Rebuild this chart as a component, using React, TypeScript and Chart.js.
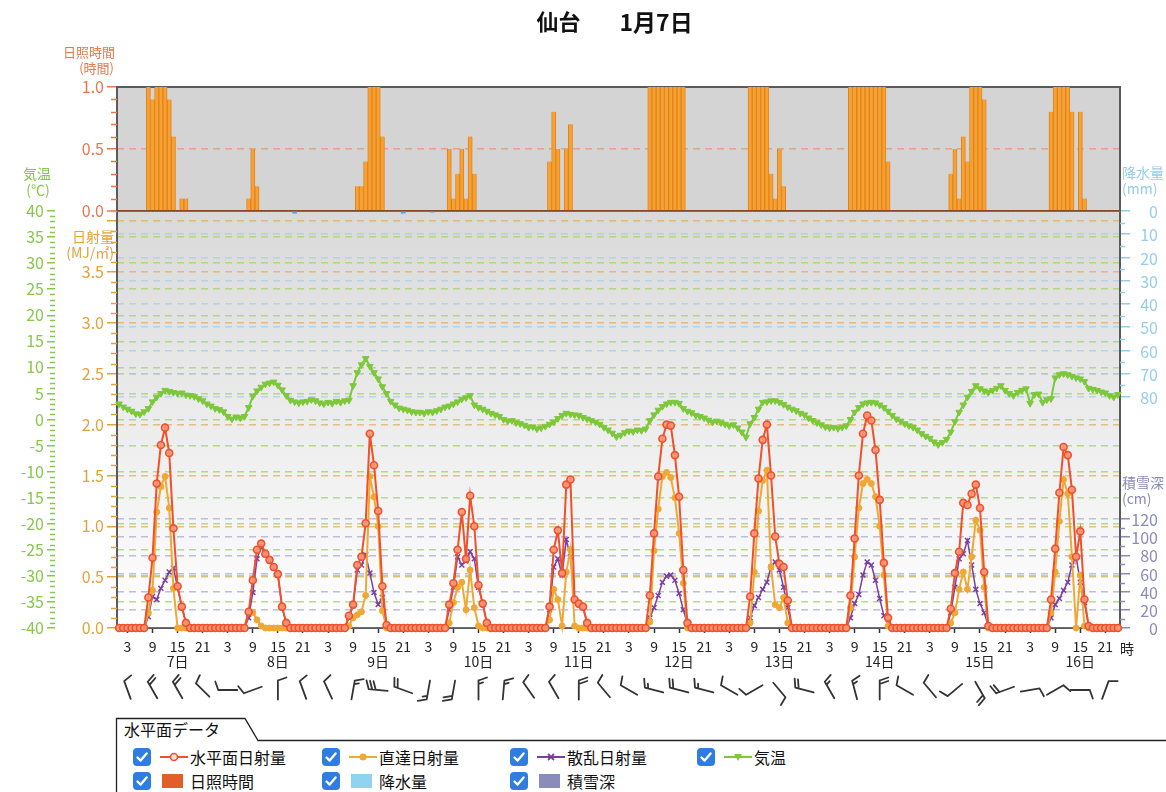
import { useEffect, useRef } from 'react';
import { Chart, registerables } from 'chart.js';

Chart.register(...registerables);

const FONT = '"Noto Sans CJK JP", "Noto Sans", "DejaVu Sans", sans-serif';
Chart.defaults.font.family = FONT;

const DAYS = [7, 8, 9, 10, 11, 12, 13, 14, 15, 16];
const HOURS = [1, 2, 3, 4, 5, 6, 7, 8, 9, 10, 11, 12, 13, 14, 15, 16, 17, 18, 19, 20, 21, 22, 23, 24];
const HOUR_TICKS = [3, 9, 15, 21];
const DAY_LABEL_HOUR = 15;

// 日照時間 (時間) hourly, one line per day
const sunshine = [
  0,0,0,0,0,0,0,1.0,0.9,1.0,1.0,1.0,0.9,0.6,0,0.1,0.1,0,0,0,0,0,0,0,
  0,0,0,0,0,0,0,0.1,0.5,0.2,0,0,0,0,0,0,0,0,0,0,0,0,0,0,
  0,0,0,0,0,0,0,0,0,0.2,0.2,0.4,1.0,1.0,1.0,0.6,0,0,0,0,0,0,0,0,
  0,0,0,0,0,0,0,0.5,0.1,0.3,0.5,0.1,0.6,0.3,0,0,0,0,0,0,0,0,0,0,
  0,0,0,0,0,0,0,0.4,0.8,0.5,0,0.5,0.7,0,0,0,0,0,0,0,0,0,0,0,
  0,0,0,0,0,0,0,1,1,1,1,1,1,1,1,1,0,0,0,0,0,0,0,0,
  0,0,0,0,0,0,0,1,1,1,1,1,0.3,0.1,0.5,0.2,0,0,0,0,0,0,0,0,
  0,0,0,0,0,0,0,1,1,1,1,1,1,1,1,1,0.4,0,0,0,0,0,0,0,
  0,0,0,0,0,0,0,0.3,0.5,0.1,0.6,0.4,1,1,1,0.9,0,0,0,0,0,0,0,0,
  0,0,0,0,0,0,0,0.8,1,1,1,1,0.8,0,0.8,0.1,0,0,0,0,0,0,0,0,
];

// 水平面日射量 (MJ/㎡)
const horizontal = [
  0,0,0,0,0,0,0,0.30,0.69,1.42,1.80,1.97,1.72,0.98,0.41,0.21,0.05,0,0,0,0,0,0,0,
  0,0,0,0,0,0,0,0.16,0.47,0.77,0.83,0.73,0.67,0.60,0.53,0.21,0.05,0,0,0,0,0,0,0,
  0,0,0,0,0,0,0,0.12,0.23,0.62,0.70,1.03,1.91,1.60,1.15,0.41,0.03,0,0,0,0,0,0,0,
  0,0,0,0,0,0,0,0.23,0.44,0.77,1.14,0.68,1.30,1.00,0.42,0.24,0.05,0,0,0,0,0,0,0,
  0,0,0,0,0,0,0,0.21,0.77,0.96,0.54,1.41,1.46,0.28,0.24,0.21,0.05,0,0,0,0,0,0,0,
  0,0,0,0,0,0,0,0.32,0.93,1.49,1.86,2.00,1.99,1.70,1.29,0.57,0.05,0,0,0,0,0,0,0,
  0,0,0,0,0,0,0,0.31,0.93,1.47,1.85,2.00,1.50,0.90,0.63,0.60,0.27,0,0,0,0,0,0,0,
  0,0,0,0,0,0,0,0.32,0.88,1.50,1.91,2.09,2.04,1.75,1.26,0.64,0.10,0,0,0,0,0,0,0,
  0,0,0,0,0,0,0,0.19,0.54,0.75,1.23,1.21,1.32,1.41,1.18,0.55,0.02,0,0,0,0,0,0,0,
  0,0,0,0,0,0,0,0.28,0.78,1.33,1.78,1.70,1.36,0.70,0.95,0.28,0.02,0,0,0,0,0,0,0,
];

// 直達日射量 (MJ/㎡)
const direct = [
  0,0,0,0,0,0,0,0.15,0.37,1.14,1.39,1.49,1.18,0.39,0,0,0,0,0,0,0,0,0,0,
  0,0,0,0,0,0,0,0.16,0.15,0.08,0.02,0,0,0,0,0,0,0,0,0,0,0,0,0,
  0,0,0,0,0,0,0,0.02,0.10,0.13,0.16,0.32,1.49,1.29,1.00,0.17,0,0,0,0,0,0,0,0,
  0,0,0,0,0,0,0,0.05,0.25,0.40,0.45,0.18,0.57,0.20,0.02,0,0,0,0,0,0,0,0,0,
  0,0,0,0,0,0,0,0.08,0.38,0.28,0.02,0.55,0.77,0.02,0,0,0,0,0,0,0,0,0,0,
  0,0,0,0,0,0,0,0.06,0.76,1.17,1.49,1.53,1.48,1.28,0.93,0.44,0,0,0,0,0,0,0,0,
  0,0,0,0,0,0,0,0.05,0.55,1.15,1.45,1.55,0.60,0.23,0.20,0.30,0.05,0,0,0,0,0,0,0,
  0,0,0,0,0,0,0,0.20,0.70,1.18,1.42,1.46,1.42,1.29,1.00,0.52,0.02,0,0,0,0,0,0,0,
  0,0,0,0,0,0,0,0.05,0.15,0.38,0.55,0.38,0.70,1.06,0.96,0.40,0,0,0,0,0,0,0,0,
  0,0,0,0,0,0,0,0.15,0.55,1.05,1.46,1.32,0.70,0,0.52,0.02,0,0,0,0,0,0,0,0,
];

// 散乱日射量 (MJ/㎡)
const diffuse = [
  0,0,0,0,0,0,0,0.11,0.31,0.28,0.39,0.47,0.55,0.59,0.40,0.21,0.05,0,0,0,0,0,0,0,
  0,0,0,0,0,0,0,0.10,0.35,0.68,0.80,0.72,0.66,0.59,0.52,0.20,0.05,0,0,0,0,0,0,0,
  0,0,0,0,0,0,0,0.10,0.22,0.57,0.62,0.72,0.54,0.35,0.23,0.30,0.03,0,0,0,0,0,0,0,
  0,0,0,0,0,0,0,0.18,0.40,0.70,0.62,0.66,0.75,0.68,0.40,0.24,0.05,0,0,0,0,0,0,0,
  0,0,0,0,0,0,0,0.18,0.60,0.68,0.52,0.87,0.70,0.27,0.23,0.20,0.05,0,0,0,0,0,0,0,
  0,0,0,0,0,0,0,0.10,0.20,0.32,0.45,0.51,0.52,0.47,0.34,0.18,0.04,0,0,0,0,0,0,0,
  0,0,0,0,0,0,0,0.10,0.22,0.30,0.38,0.45,0.60,0.65,0.57,0.40,0.20,0,0,0,0,0,0,0,
  0,0,0,0,0,0,0,0.10,0.24,0.33,0.52,0.65,0.62,0.47,0.29,0.12,0.05,0,0,0,0,0,0,0,
  0,0,0,0,0,0,0,0.15,0.40,0.68,0.73,0.86,0.62,0.38,0.24,0.15,0.02,0,0,0,0,0,0,0,
  0,0,0,0,0,0,0,0.10,0.23,0.29,0.37,0.45,0.62,0.70,0.45,0.25,0.02,0,0,0,0,0,0,0,
];

// 気温 (℃)
const temperature = [
  3.0,2.4,2.0,1.6,1.1,1.0,1.5,2.1,3.4,4.3,5.0,5.6,5.4,5.2,5.0,5.1,4.7,4.6,4.4,4.0,3.6,3.0,2.6,2.1,
  1.9,1.5,0.6,0.1,0.5,0.3,0.6,2.3,4.5,5.5,6.2,6.8,7.0,7.2,6.6,5.7,4.6,3.7,3.4,3.2,3.4,3.5,3.8,3.6,
  3.2,3.0,3.3,3.1,3.5,3.3,3.6,3.7,6.5,9.0,10.5,11.7,10.2,9.0,7.8,6.3,5.0,3.5,2.8,2.2,2.0,1.8,1.5,1.4,
  1.4,1.2,1.5,1.4,1.7,2.0,2.4,2.6,3.0,3.4,3.9,4.2,4.6,2.8,2.3,2.0,1.6,1.2,0.9,0.6,0.0,-0.3,-0.2,-0.6,
  -0.8,-1.1,-1.5,-1.4,-1.8,-1.6,-1.3,-0.9,-0.5,0.2,0.8,1.2,1.0,0.9,0.8,0.4,0.1,-0.2,-0.5,-0.9,-1.5,-2.0,-2.6,-3.3,
  -3.0,-2.5,-2.2,-2.3,-2.0,-2.1,-1.8,-0.2,0.9,1.8,2.5,3.0,3.3,3.3,3.1,2.1,1.6,1.3,0.8,0.6,0.3,-0.1,-0.5,-0.3,
  -0.6,-0.9,-1.2,-1.0,-1.6,-2.4,-3.4,-0.8,0.4,2.0,3.3,3.4,3.6,3.6,3.3,2.9,2.4,2.0,1.7,1.2,0.9,0.3,-0.2,-0.6,
  -1.0,-1.4,-1.6,-1.5,-1.7,-1.5,-1.2,0.0,1.4,2.3,3.0,3.2,3.3,3.2,2.8,2.3,1.6,0.8,0.1,-0.3,-0.8,-1.2,-1.5,-2.0,
  -2.7,-3.2,-3.6,-4.3,-4.8,-4.4,-3.8,-2.4,-0.4,1.4,2.8,4.3,5.4,6.5,5.9,5.5,5.2,5.6,6.0,6.5,5.6,5.0,4.6,5.2,
  5.6,5.9,3.1,4.8,4.9,3.3,3.8,4.0,8.0,8.6,8.8,8.6,8.3,8.0,7.8,7.3,6.0,5.8,5.6,5.3,5.1,4.6,4.3,4.8,
];

// 降水量 (mm)
const precipitation = [
  0,0,0,0,0,0,0,0,0,0,0,0,0,0,0,0,0,0,0,0,0,0,0,0,
  0,0,0,0,0,0,0,0,0,0,0,0,0,0,0,0,0,0,1.0,0,0,0,0,0,
  0,0,0,0,0,0,0,0,0,0,0,0,0,0,0,0,0,0,0,0,1.0,0,0,0,
  0,0,0,0.5,0,0,0,0,0,0,0,0,0,0,0,0,0,0,0,0,0,0,0,0,
  0,0,0,0,0,0,0,0,0,0,0,0,0,0,0,0,0,0,0,0,0,0,0,0,
  0,0,0,0,0,0,0,0,0,0,0,0,0,0,0,0,0,0,0,0,0,0,0,0,
  0,0,0,0,0,0,0,0,0,0,0,0,0,0,0,0,0,0,0,0,0,0,0,0,
  0,0,0,0,0,0,0,0,0,0,0,0,0,0,0,0,0,0,0,0,0,0,0,0,
  0,0,0,0,0,0,0,0,0,0,0,0,0,0,0,0,0,0,0,0,0,0,0,0,
  0,0,0,0,0,0,0,0,0,0,0,0,0,0,0,0,0,0,0,0,0,0,0,0,
];

// 積雪深 (cm)
const snowDepth = [
  0,0,0,0,0,0,0,0,0,0,0,0,0,0,0,0,0,0,0,0,0,0,0,0,
  0,0,0,0,0,0,0,0,0,0,0,0,0,0,0,0,0,0,0,0,0,0,0,0,
  0,0,0,0,0,0,0,0,0,0,0,0,0,0,0,0,0,0,0,0,0,0,0,0,
  0,0,0,0,0,0,0,0,0,0,0,0,0,0,0,0,0,0,0,0,0,0,0,0,
  0,0,0,0,0,0,0,0,0,0,0,0,0,0,0,0,0,0,0,0,0,0,0,0,
  0,0,0,0,0,0,0,0,0,0,0,0,0,0,0,0,0,0,0,0,0,0,0,0,
  0,0,0,0,0,0,0,0,0,0,0,0,0,0,0,0,0,0,0,0,0,0,0,0,
  0,0,0,0,0,0,0,0,0,0,0,0,0,0,0,0,0,0,0,0,0,0,0,0,
  0,0,0,0,0,0,0,0,0,0,0,0,0,0,0,0,0,0,0,0,0,0,0,0,
  0,0,0,0,0,0,0,0,0,0,0,0,0,0,0,0,0,0,0,0,0,0,0,0,
];

// 風向 (deg, from) / 風力 (barb units) at 3, 9, 15, 21 h each day
const WIND_HOURS = [3, 9, 15, 21];
const windDir = [
  340, 330, 330, 315,
  270, 250, 0, 340,
  335, 10, 275, 290,
  190, 190, 0, 5,
  325, 330, 0, 320,
  300, 285, 285, 285,
  300, 240, 140, 285,
  330, 345, 0, 300,
  320, 230, 150, 250,
  80, 60, 90, 20,
];
const windSpeed = [
  2, 4, 4, 2,
  2, 2, 2, 2,
  2, 3, 6, 4,
  3, 4, 3, 3,
  2, 2, 4, 2,
  2, 3, 4, 3,
  2, 2, 2, 4,
  3, 3, 4, 2,
  2, 2, 4, 4,
  2, 2, 2, 2,
];

const SUN_TICKS = [0, 0.5, 1];
const SOLAR_TICKS = [0, 0.5, 1, 1.5, 2, 2.5, 3, 3.5, 4];
const TEMP_TICKS = [-40, -35, -30, -25, -20, -15, -10, -5, 0, 5, 10, 15, 20, 25, 30, 35, 40];
const PRECIP_TICKS = [0, 10, 20, 30, 40, 50, 60, 70, 80];
const SNOW_TICKS = [0, 20, 40, 60, 80, 100, 120];

const SUN_C = '#e8774a';
const SOLAR_C = '#e3a23a';
const TEMP_C = '#86c84a';
const PRECIP_C = '#95cdea';
const SNOW_C = '#8a8abb';
const NONE = 'rgba(0,0,0,0)';

const H_COLOR = '#f0502a';
const D_COLOR = '#f0a834';
const F_COLOR = '#7b3fa0';
const T_COLOR = '#7cc83a';

function drawMinor(ctx: CanvasRenderingContext2D, scale: any, from: number, to: number, step: number, major: number, len: number, side: 'left' | 'right', color: string) {
  ctx.beginPath();
  ctx.strokeStyle = color;
  ctx.lineWidth = 1.5;
  const n = Math.round((to - from) / step);
  for (let k = 0; k <= n; k++) {
    const v = from + k * step;
    const r = v / major;
    if (Math.abs(r - Math.round(r)) < 1e-6) continue;
    const y = Math.round(scale.getPixelForValue(v)) + 0.5;
    const x0 = side === 'left' ? scale.right - len : scale.left;
    ctx.moveTo(x0, y);
    ctx.lineTo(x0 + len, y);
  }
  ctx.stroke();
}

function drawRightLabels(ctx: CanvasRenderingContext2D, scale: any, values: number[], color: string, xRight: number) {
  ctx.fillStyle = color;
  ctx.font = `16px ${FONT}`;
  ctx.textAlign = 'right';
  ctx.textBaseline = 'middle';
  values.forEach((v) => {
    ctx.fillText(String(v), xRight, scale.getPixelForValue(v) + 1);
  });
}

function drawBarb(ctx: CanvasRenderingContext2D, cx: number, cy: number, dirDeg: number, speed: number) {
  const L = 19;
  const a = (dirDeg * Math.PI) / 180;
  const ux = Math.sin(a);
  const uy = -Math.cos(a);
  const x0 = cx - (ux * L) / 2;
  const y0 = cy - (uy * L) / 2;
  const x1 = cx + (ux * L) / 2;
  const y1 = cy + (uy * L) / 2;
  const px = -uy;
  const py = ux;
  ctx.beginPath();
  ctx.moveTo(x0, y0);
  ctx.lineTo(x1, y1);
  let rem = speed;
  let pos = 0;
  while (rem > 0) {
    const bx = x1 - ux * pos;
    const by = y1 - uy * pos;
    const len = rem >= 2 ? 8.5 : 4.5;
    ctx.moveTo(bx, by);
    ctx.lineTo(bx + px * len + ux * len * 0.35, by + py * len + uy * len * 0.35);
    rem -= 2;
    pos += 3.5;
  }
  ctx.stroke();
}

const panelPlugin = {
  id: 'panelPlugin',
  beforeDraw(chart: any) {
    const { ctx, chartArea: a, scales } = chart;
    const sun = scales.ySun;
    const solar = scales.ySolar;
    ctx.save();
    ctx.fillStyle = '#d4d4d4';
    ctx.fillRect(a.left, sun.top, a.right - a.left, sun.bottom - sun.top);
    const g = ctx.createLinearGradient(0, solar.top, 0, solar.bottom);
    g.addColorStop(0, '#d9d9d9');
    g.addColorStop(1, '#ffffff');
    ctx.fillStyle = g;
    ctx.fillRect(a.left, solar.top, a.right - a.left, solar.bottom - solar.top);
    ctx.restore();
  },
  beforeDatasetsDraw(chart: any) {
    const { ctx, chartArea: a } = chart;
    ctx.save();
    ctx.strokeStyle = '#5a5a5a';
    ctx.lineWidth = 2;
    ctx.strokeRect(a.left, a.top, a.right - a.left, a.bottom - a.top);
    ctx.restore();
  },
  afterDraw(chart: any) {
    const { ctx, chartArea: a, scales } = chart;
    ctx.save();
    drawMinor(ctx, scales.ySun, 0, 1, 0.1, 0.5, 6, 'left', SUN_C);
    drawMinor(ctx, scales.ySolar, 0, 4.1, 0.1, 0.5, 6, 'left', SOLAR_C);
    drawMinor(ctx, scales.yTemp, -40, 40, 1, 5, 5, 'left', TEMP_C);
    drawMinor(ctx, scales.yPrecip, 0, 80, 5, 10, 5, 'right', PRECIP_C);
    drawMinor(ctx, scales.ySnow, 0, 120, 10, 20, 5, 'right', SNOW_C);

    drawRightLabels(ctx, scales.yPrecip, PRECIP_TICKS, PRECIP_C, a.right + 38);
    drawRightLabels(ctx, scales.ySnow, SNOW_TICKS, SNOW_C, a.right + 38);

    // title
    const cx = (a.left + a.right) / 2;
    ctx.fillStyle = '#111';
    ctx.textBaseline = 'middle';
    ctx.textAlign = 'right';
    ctx.font = `bold 22px ${FONT}`;
    ctx.fillText('仙台', cx - 38, 22);
    ctx.textAlign = 'left';
    ctx.font = `bold 23px ${FONT}`;
    ctx.fillText('1月7日', cx + 1, 22);

    // axis titles
    ctx.font = `13px ${FONT}`;
    ctx.textAlign = 'right';
    ctx.fillStyle = SUN_C;
    ctx.fillText('日照時間', 115, 52);
    ctx.fillText('(時間)', 114, 68);
    ctx.font = `14px ${FONT}`;
    ctx.fillStyle = SOLAR_C;
    ctx.fillText('日射量', 114, 237);
    ctx.fillText('(MJ/㎡)', 114, 253);
    ctx.textAlign = 'center';
    ctx.fillStyle = TEMP_C;
    ctx.fillText('気温', 37, 174);
    ctx.fillText('(℃)', 38, 190);
    ctx.textAlign = 'left';
    ctx.fillStyle = PRECIP_C;
    ctx.fillText('降水量', a.right + 2, 173);
    ctx.fillText('(mm)', a.right + 2, 189);
    ctx.fillStyle = SNOW_C;
    ctx.fillText('積雪深', a.right + 2, 483);
    ctx.fillText('(cm)', a.right + 2, 499);

    // hour unit
    ctx.fillStyle = '#222';
    ctx.textAlign = 'center';
    ctx.fillText('時', a.right + 7, 649);

    // wind barbs
    const xs = scales.x;
    ctx.strokeStyle = '#333';
    ctx.lineWidth = 1.8;
    ctx.lineCap = 'round';
    let k = 0;
    DAYS.forEach((_d, di) => {
      WIND_HOURS.forEach((h) => {
        const idx = di * 24 + HOURS.indexOf(h);
        drawBarb(ctx, xs.getPixelForValue(idx), 690, windDir[k], windSpeed[k]);
        k++;
      });
    });
    ctx.restore();
  },
};

function LineMarker({ color, kind }: { color: string; kind: string }) {
  return (
    <svg width="28" height="14" style={{ verticalAlign: 'middle' }}>
      <line x1="0" y1="7" x2="28" y2="7" stroke={color} strokeWidth="2" />
      {kind === 'circle' && <circle cx="14" cy="7" r="3.5" fill="#fde3d8" stroke={color} strokeWidth="1.6" />}
      {kind === 'dot' && <circle cx="14" cy="7" r="3.5" fill={color} />}
      {kind === 'cross' && <path d="M11 4 L17 10 M17 4 L11 10" stroke={color} strokeWidth="1.8" />}
      {kind === 'tri' && <path d="M10 4 L18 4 L14 11 Z" fill={color} />}
    </svg>
  );
}

function CheckBox() {
  return (
    <span style={{ display: 'inline-block', width: 18, height: 18, borderRadius: 4, background: '#2f7de1', position: 'relative', verticalAlign: 'middle' }}>
      <svg width="18" height="18" viewBox="0 0 18 18" style={{ position: 'absolute', left: 0, top: 0 }}>
        <path d="M4.5 9.5 L7.6 12.6 L13.6 5.4" stroke="#fff" strokeWidth="2.3" fill="none" strokeLinecap="round" strokeLinejoin="round" />
      </svg>
    </span>
  );
}

const LEGEND_ROW1 = [
  { label: '水平面日射量', color: H_COLOR, kind: 'circle' },
  { label: '直達日射量', color: D_COLOR, kind: 'dot' },
  { label: '散乱日射量', color: F_COLOR, kind: 'cross' },
  { label: '気温', color: T_COLOR, kind: 'tri' },
];
const LEGEND_ROW2 = [
  { label: '日照時間', color: '#e0602a' },
  { label: '降水量', color: '#8fd3f0' },
  { label: '積雪深', color: '#8c8cbc' },
];
const LEGEND_COLS = [18, 207, 395, 582];

export default function App() {
  const canvasRef = useRef<HTMLCanvasElement | null>(null);

  useEffect(() => {
    document.body.style.margin = '0';
    const canvas = canvasRef.current;
    if (!canvas) return;
    const labels = DAYS.flatMap((d) => HOURS.map((h) => `${d}日${h}時`));

    const lineCommon = {
      type: 'line' as const,
      yAxisID: 'ySolar',
      tension: 0,
      clip: { left: 3, right: 3, top: 0, bottom: 6 } as any,
    };

    const chart = new Chart(canvas, {
      type: 'line',
      data: {
        labels,
        datasets: [
          {
            ...lineCommon,
            label: '水平面日射量',
            data: horizontal,
            borderColor: H_COLOR,
            borderWidth: 2,
            pointStyle: 'circle',
            pointRadius: 3.5,
            pointBorderWidth: 1.6,
            pointBorderColor: H_COLOR,
            pointBackgroundColor: 'rgba(246,150,120,0.9)',
          },
          {
            ...lineCommon,
            label: '直達日射量',
            data: direct,
            borderColor: D_COLOR,
            borderWidth: 2,
            pointStyle: 'circle',
            pointRadius: 3,
            pointBorderWidth: 1,
            pointBorderColor: D_COLOR,
            pointBackgroundColor: D_COLOR,
          },
          {
            ...lineCommon,
            label: '散乱日射量',
            data: diffuse,
            borderColor: F_COLOR,
            borderWidth: 1.5,
            pointStyle: 'crossRot',
            pointRadius: 3.5,
            pointBorderWidth: 1.5,
            pointBorderColor: F_COLOR,
          },
          {
            ...lineCommon,
            label: '気温',
            yAxisID: 'yTemp',
            data: temperature,
            borderColor: T_COLOR,
            borderWidth: 2,
            pointStyle: 'triangle',
            pointRotation: 180,
            pointRadius: 3.8,
            pointBorderWidth: 1,
            pointBorderColor: T_COLOR,
            pointBackgroundColor: T_COLOR,
          },
          {
            type: 'bar',
            label: '日照時間',
            yAxisID: 'ySun',
            data: sunshine,
            backgroundColor: '#f6a232',
            borderColor: '#e3821c',
            borderWidth: { left: 1, right: 1, top: 0, bottom: 0 } as any,
            barPercentage: 1,
            categoryPercentage: 1,
            grouped: false,
          } as any,
          {
            type: 'bar',
            label: '降水量',
            yAxisID: 'yPrecip',
            data: precipitation,
            backgroundColor: '#5aa8e8',
            barPercentage: 1,
            categoryPercentage: 1,
            grouped: false,
          } as any,
          {
            type: 'bar',
            label: '積雪深',
            yAxisID: 'ySnow',
            data: snowDepth,
            backgroundColor: '#8c8cbc',
            barPercentage: 1,
            categoryPercentage: 1,
            grouped: false,
          } as any,
        ],
      },
      options: {
        responsive: false,
        animation: false,
        devicePixelRatio: 1,
        layout: { padding: { top: 87, left: 0, right: 0, bottom: 0 } },
        plugins: {
          legend: { display: false },
          tooltip: { enabled: false },
          title: { display: false },
        },
        scales: {
          x: {
            type: 'category',
            offset: true,
            grid: {
              offset: false,
              drawOnChartArea: false,
              drawTicks: true,
              tickLength: 5,
              tickWidth: 1.5,
              tickColor: (c: any) => (HOUR_TICKS.includes(HOURS[c.index % 24]) ? '#333' : NONE),
            },
            border: { display: true, color: '#555', width: 2 },
            ticks: {
              autoSkip: false,
              maxRotation: 0,
              minRotation: 0,
              padding: 6,
              color: '#222',
              font: { size: 14, lineHeight: 1.1 },
              callback: (_v: any, i: number) => {
                const h = HOURS[i % 24];
                const d = DAYS[Math.floor(i / 24)];
                if (h === DAY_LABEL_HOUR) return [String(h), `${d}日`];
                if (HOUR_TICKS.includes(h)) return String(h);
                return '';
              },
            },
            afterFit: (s: any) => {
              s.height = 84;
            },
          },
          ySun: {
            type: 'linear',
            position: 'left',
            stack: 'left',
            stackWeight: 124,
            weight: 2,
            min: 0,
            max: 1,
            afterBuildTicks: (s: any) => {
              s.ticks = SUN_TICKS.map((v) => ({ value: v }));
            },
            afterFit: (s: any) => {
              s.width = 62;
            },
            ticks: { autoSkip: false, color: SUN_C, font: { size: 16 }, padding: 3, callback: (v: any) => Number(v).toFixed(1) },
            grid: {
              color: (c: any) => (c.tick.value === 0 ? '#8a4b22' : c.tick.value === 0.5 ? 'rgba(226,150,120,0.8)' : NONE),
              lineWidth: (c: any) => (c.tick.value === 0 ? 2 : 1.5),
              tickColor: SUN_C,
              tickLength: 10,
              tickWidth: 1.5,
              tickBorderDash: [],
            },
            border: { display: false, dash: (c: any) => (c.tick && c.tick.value === 0 ? [] : [7, 5]) },
          },
          ySolar: {
            type: 'linear',
            position: 'left',
            stack: 'left',
            stackWeight: 417,
            weight: 1,
            min: 0,
            max: 4.1,
            afterBuildTicks: (s: any) => {
              s.ticks = SOLAR_TICKS.map((v) => ({ value: v }));
            },
            afterFit: (s: any) => {
              s.width = 62;
            },
            ticks: { autoSkip: false, color: SOLAR_C, font: { size: 16 }, padding: 3, callback: (v: any) => (Number(v) <= 3.5 ? Number(v).toFixed(1) : '') },
            grid: {
              color: (c: any) => (c.tick.value > 0 ? 'rgba(228,172,100,0.75)' : NONE),
              lineWidth: 1.5,
              tickColor: SOLAR_C,
              tickLength: 10,
              tickWidth: 1.5,
              tickBorderDash: [],
            },
            border: { display: false, dash: [7, 5] },
          },
          yTempPad: {
            type: 'linear',
            position: 'left',
            stack: 'left2',
            stackWeight: 124,
            weight: 4,
            display: true,
            min: 0,
            max: 1,
            ticks: { display: false },
            grid: { display: false },
            border: { display: false },
            afterFit: (s: any) => {
              s.width = 55;
            },
          },
          yTemp: {
            type: 'linear',
            position: 'left',
            stack: 'left2',
            stackWeight: 417,
            weight: 3,
            min: -40,
            max: 40,
            afterBuildTicks: (s: any) => {
              s.ticks = TEMP_TICKS.map((v) => ({ value: v }));
            },
            afterFit: (s: any) => {
              s.width = 55;
            },
            ticks: { autoSkip: false, color: TEMP_C, font: { size: 16 }, padding: 3, callback: (v: any) => String(v) },
            grid: {
              color: (c: any) => (Math.abs(c.tick.value) < 40 ? 'rgba(165,212,105,0.8)' : NONE),
              lineWidth: 1.5,
              tickColor: TEMP_C,
              tickLength: 8,
              tickWidth: 1.5,
              tickBorderDash: [],
            },
            border: { display: false, dash: [7, 5] },
          },
          yRightPad: {
            type: 'linear',
            position: 'right',
            stack: 'right',
            stackWeight: 124,
            weight: 1,
            display: true,
            min: 0,
            max: 1,
            ticks: { display: false },
            grid: { display: false },
            border: { display: false },
            afterFit: (s: any) => {
              s.width = 46;
            },
          },
          yPrecip: {
            type: 'linear',
            position: 'right',
            stack: 'right',
            stackWeight: 249,
            weight: 2,
            reverse: true,
            min: 0,
            max: 107.1,
            afterBuildTicks: (s: any) => {
              s.ticks = PRECIP_TICKS.map((v) => ({ value: v }));
            },
            afterFit: (s: any) => {
              s.width = 46;
            },
            ticks: { autoSkip: false, display: false },
            grid: {
              color: (c: any) => (c.tick.value > 0 ? 'rgba(160,205,232,0.7)' : NONE),
              lineWidth: 1.5,
              tickColor: PRECIP_C,
              tickLength: 10,
              tickWidth: 1.5,
              tickBorderDash: [],
            },
            border: { display: false, dash: [7, 5] },
          },
          ySnow: {
            type: 'linear',
            position: 'right',
            stack: 'right',
            stackWeight: 168,
            weight: 3,
            min: 0,
            max: 185,
            afterBuildTicks: (s: any) => {
              s.ticks = SNOW_TICKS.map((v) => ({ value: v }));
            },
            afterFit: (s: any) => {
              s.width = 46;
            },
            ticks: { autoSkip: false, display: false },
            grid: {
              color: (c: any) => (c.tick.value > 0 ? 'rgba(170,170,215,0.75)' : NONE),
              lineWidth: 1.5,
              tickColor: SNOW_C,
              tickLength: 10,
              tickWidth: 1.5,
              tickBorderDash: [],
            },
            border: { display: false, dash: [7, 5] },
          },
        } as any,
      },
      plugins: [panelPlugin],
    } as any);

    return () => {
      chart.destroy();
    };
  }, []);

  const textStyle = { fontFamily: FONT, fontSize: 16, color: '#111', verticalAlign: 'middle' } as const;

  return (
    <div style={{ position: 'relative', width: 1166, height: 792, overflow: 'hidden', fontFamily: FONT }}>
      <canvas ref={canvasRef} width={1166} height={712} style={{ position: 'absolute', left: 0, top: 0, width: 1166, height: 712 }} />
      <div style={{ position: 'absolute', left: 115, top: 717, width: 1051, height: 75 }}>
        <svg width="1051" height="75" style={{ position: 'absolute', left: 0, top: 0 }}>
          <path d="M1.5 75 L1.5 1.5 L130 1.5 L143 23.5 L1051 23.5" stroke="#222" strokeWidth="1.3" fill="none" />
        </svg>
        <div style={{ position: 'absolute', left: 9, top: 2, fontSize: 16, color: '#111', lineHeight: '20px' }}>水平面データ</div>
        {LEGEND_ROW1.map((it, i) => (
          <div key={it.label} style={{ position: 'absolute', left: LEGEND_COLS[i], top: 29, height: 22, display: 'flex', alignItems: 'center', whiteSpace: 'nowrap' }}>
            <CheckBox />
            <span style={{ marginLeft: 9, display: 'inline-flex' }}>
              <LineMarker color={it.color} kind={it.kind} />
            </span>
            <span style={{ ...textStyle, marginLeft: 2 }}>{it.label}</span>
          </div>
        ))}
        {LEGEND_ROW2.map((it, i) => (
          <div key={it.label} style={{ position: 'absolute', left: LEGEND_COLS[i], top: 53, height: 22, display: 'flex', alignItems: 'center', whiteSpace: 'nowrap' }}>
            <CheckBox />
            <span style={{ marginLeft: 11, display: 'inline-block', width: 21, height: 14, background: it.color }} />
            <span style={{ ...textStyle, marginLeft: 7 }}>{it.label}</span>
          </div>
        ))}
      </div>
    </div>
  );
}
